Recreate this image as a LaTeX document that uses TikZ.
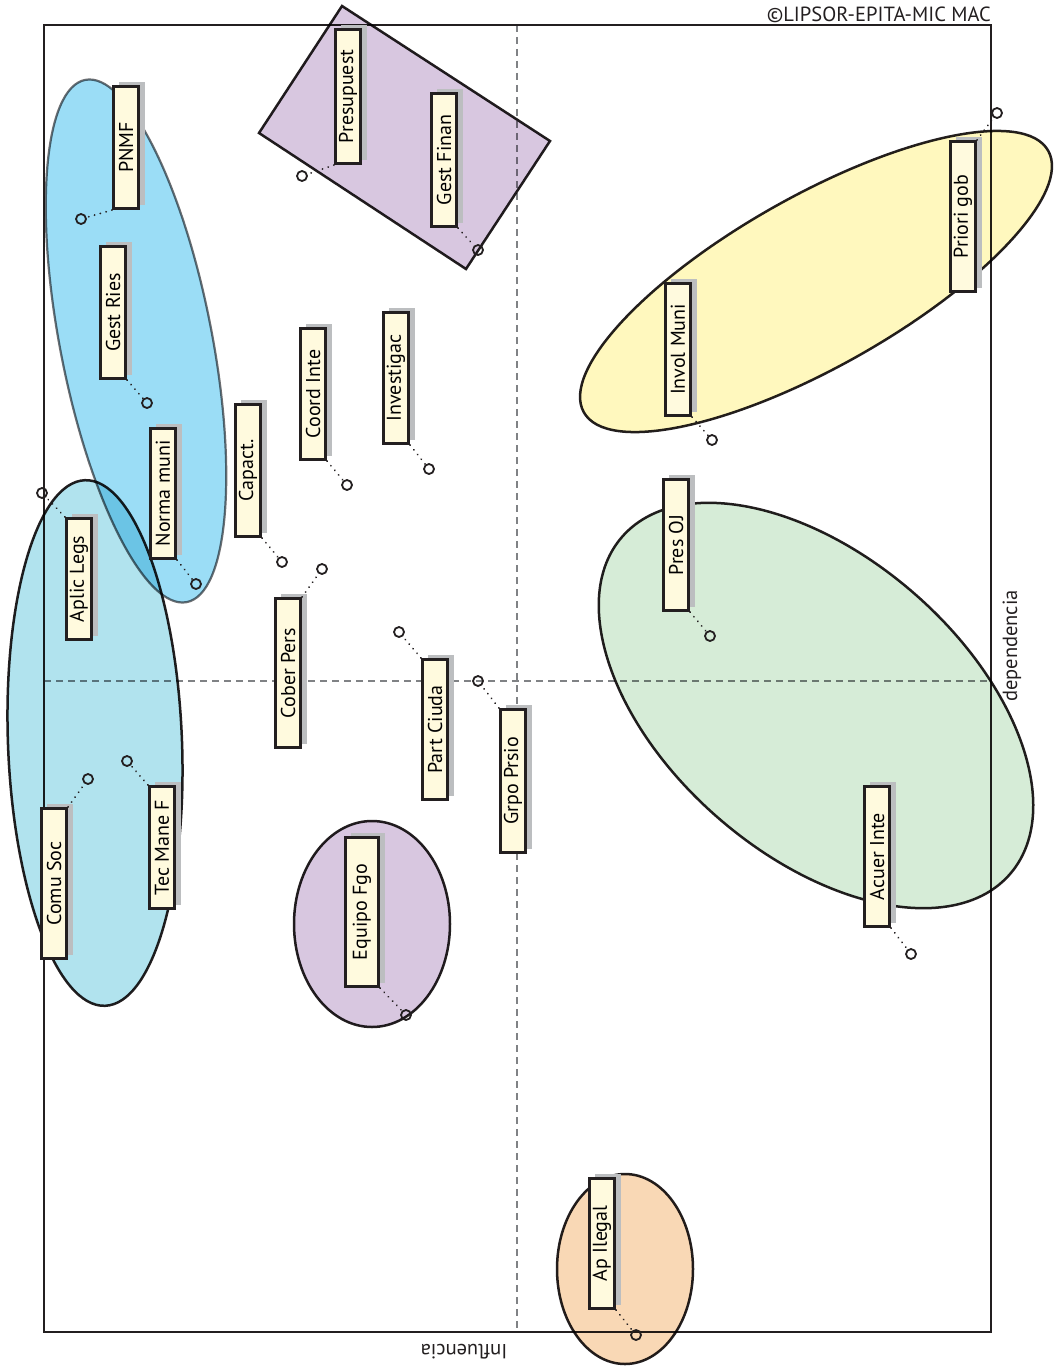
\documentclass[tikz,border=0pt]{standalone}
\usepackage{fontspec}
\setmainfont{PT Sans}
\usetikzlibrary{shadows}
\definecolor{framec}{HTML}{231F20}
\definecolor{cream}{HTML}{FFFADE}
\definecolor{shadowc}{HTML}{BCBEC0}
\definecolor{gridc}{HTML}{808285}
\definecolor{blueA}{HTML}{9BDDF6}
\definecolor{blueedge}{HTML}{6D6E71}
\definecolor{cyanA}{HTML}{B1E3EE}
\definecolor{yellowA}{HTML}{FFF8BE}
\definecolor{greenA}{HTML}{D6ECD7}
\definecolor{lilac}{HTML}{D8C7E0}
\definecolor{peach}{HTML}{F9D8B5}
\newcommand\varbox[6][25.5]{\node[lbl, minimum width=#1pt, minimum height=#5pt] (#2) at (#3,#4) {\rotatebox{90}{#6}};}
\begin{document}
\begin{tikzpicture}[x=1pt,y=-1pt,
  lbl/.style={draw=framec, line width=2.7pt, fill=cream, inner sep=0pt,
    drop shadow={opacity=1, fill=shadowc, shadow xshift=6pt, shadow yshift=4pt},
    font=\fontsize{20}{24}\selectfont},
  dotc/.style={circle, draw=framec, line width=1.8pt, minimum size=10pt, inner sep=0pt},
  conn/.style={draw=framec, line width=2pt, line cap=round, dash pattern=on 0.01pt off 6pt},
  grp/.style={draw=framec, line width=2.5pt},
  gridl/.style={draw=gridc, line width=2.2pt, dash pattern=on 7pt off 5pt},
  axtext/.style={font=\fontsize{20.5}{24}\selectfont, text=framec, inner sep=0pt}]
\useasboundingbox (0,0) rectangle (1056,1370);
% frame and axes
\draw[gridl] (517,25) -- (517,1332);
\draw[gridl] (44,681) -- (991,681);
\draw[draw=framec, line width=2.5pt] (44,25) rectangle (991,1332);
% groups
\begin{scope}[blend mode=multiply]
\draw[fill=blueA, draw=blueedge, line width=2.2pt, shift={(136,341)}, rotate=-79] (0,0) ellipse [x radius=266pt, y radius=76pt];
\draw[grp, fill=cyanA, shift={(95,743)}, rotate=-87.8] (0,0) ellipse [x radius=263pt, y radius=87pt];
\draw[grp, fill=yellowA, shift={(816,281.5)}, rotate=29.4] (0,0) ellipse [x radius=266.5pt, y radius=85.5pt];
\draw[grp, fill=greenA, shift={(816,705.5)}, rotate=-41] (0,0) ellipse [x radius=257pt, y radius=149pt];
\draw[grp, fill=lilac] (372,924) ellipse [x radius=78pt, y radius=103pt];
\draw[grp, fill=peach] (625,1269) ellipse [x radius=68pt, y radius=95pt];
\draw[grp, fill=lilac] (342,6) -- (550,141) -- (466,269) -- (259,133) -- cycle;
\end{scope}
% texts
\node[axtext, anchor=base east] (copy) at (991,22) {©LIPSOR-EPITA-MIC MAC};
\node[axtext, rotate=90] (dep) at (1012,646) {dependencia};
\node[axtext, rotate=180] (infl) at (464,1352) {Influencia};
% labels
\varbox{presu}{348}{96.5}{134.5}{Presupuest}
\varbox{gfin}{444}{160}{133.5}{Gest Finan}
\varbox{pnmf}{126}{147.5}{122.5}{PNMF}
\varbox{gries}{113}{312.5}{132.5}{Gest Ries}
\varbox{norma}{163}{493.5}{130.5}{Norma muni}
\varbox{capac}{248}{470.5}{132.5}{Capact.}
\varbox{coord}{313}{394}{131.5}{Coord Inte}
\varbox{inves}{396}{378}{131.5}{Investigac}
\varbox{aplic}{79}{579}{121.5}{Aplic Legs}
\varbox{cober}{288}{673}{149.5}{Cober Pers}
\varbox{partc}{435}{729.5}{140.5}{Part Ciuda}
\varbox{grpo}{513}{781}{143.5}{Grpo Prsio}
\varbox{comu}{54}{883.5}{150.5}{Comu Soc}
\varbox{tecm}{162}{847.5}{122.5}{Tec Mane F}
\varbox[33.5]{equip}{362}{912}{149.5}{Equipo Fgo}
\varbox{apil}{602}{1243.5}{130.5}{Ap Ilegal}
\varbox{prior}{963}{216.5}{150.5}{Priori gob}
\varbox{invol}{678}{349.5}{132.5}{Invol Muni}
\varbox{preso}{676}{545}{131.5}{Pres OJ}
\varbox{acuer}{877}{856.5}{140.5}{Acuer Inte}
% points
\node[dotc] (p1) at (302,176) {};
\node[dotc] (p2) at (478,250) {};
\node[dotc] (p3) at (81,219) {};
\node[dotc] (p4) at (147,403) {};
\node[dotc] (p5) at (196,584) {};
\node[dotc] (p6) at (282,562) {};
\node[dotc] (p7) at (347,485) {};
\node[dotc] (p8) at (429,469) {};
\node[dotc] (p9) at (42,493) {};
\node[dotc] (p10) at (322,569) {};
\node[dotc] (p11) at (399,632) {};
\node[dotc] (p12) at (478,681) {};
\node[dotc] (p13) at (88,779) {};
\node[dotc] (p14) at (127,761) {};
\node[dotc] (p15) at (406,1015) {};
\node[dotc] (p16) at (636,1335) {};
\node[dotc] (p17) at (997,113) {};
\node[dotc] (p18) at (712,440) {};
\node[dotc] (p19) at (710,636) {};
\node[dotc] (p20) at (911,954) {};
% connectors
\draw[conn] (presu.south west) -- (p1);
\draw[conn] (gfin.south east) -- (p2);
\draw[conn] (pnmf.south west) -- (p3);
\draw[conn] (gries.south east) -- (p4);
\draw[conn] (norma.south east) -- (p5);
\draw[conn] (capac.south east) -- (p6);
\draw[conn] (coord.south east) -- (p7);
\draw[conn] (inves.south east) -- (p8);
\draw[conn] (aplic.north west) -- (p9);
\draw[conn] (cober.north east) -- (p10);
\draw[conn] (partc.north west) -- (p11);
\draw[conn] (grpo.north west) -- (p12);
\draw[conn] (comu.north east) -- (p13);
\draw[conn] (tecm.north west) -- (p14);
\draw[conn] (equip.south east) -- (p15);
\draw[conn] (apil.south east) -- (p16);
\draw[conn] (prior.north east) -- (p17);
\draw[conn] (invol.south east) -- (p18);
\draw[conn] (preso.south east) -- (p19);
\draw[conn] (acuer.south east) -- (p20);
\end{tikzpicture}
\end{document}
